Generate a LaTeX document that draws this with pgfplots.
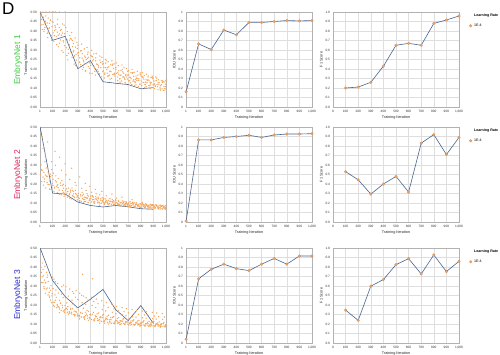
\documentclass[border=0pt]{standalone}
\usepackage{pgfplots}
\pgfplotsset{compat=1.18}
\usepackage{pgfplotstable}
\usepackage{fontspec}
\setmainfont{Liberation Sans}
\definecolor{lineblue}{HTML}{4A6491}
\definecolor{dotorange}{HTML}{F5A55A}
\definecolor{mkorange}{HTML}{F3A362}
\definecolor{engreen}{HTML}{3DCC3D}
\definecolor{enred}{HTML}{E0245A}
\definecolor{enblue}{HTML}{2A2ACF}

\pgfplotstableread{
it en1 en2 en3
3 0.500 0.248 0.352
8 0.432 0.301 0.398
14 0.461 0.213 0.318
18 0.408 0.448 0.421
11 0.483 0.276 0.371
35 0.443 0.226 0.331
24 0.500 0.387 0.387
31 0.397 0.262 0.296
27 0.472 0.194 0.354
39 0.418 0.318 0.404
49 0.500 0.284 0.284
57 0.388 0.208 0.346
42 0.452 0.352 0.262
53 0.427 0.241 0.372
46 0.479 0.179 0.318
72 0.413 0.197 0.267
65 0.468 0.262 0.324
76 0.500 0.231 0.241
61 0.366 0.421 0.358
75 0.441 0.173 0.289
83 0.458 0.238 0.226
88 0.377 0.171 0.301
94 0.423 0.276 0.248
98 0.500 0.203 0.347
91 0.352 0.318 0.212
115 0.402 0.183 0.214
104 0.447 0.226 0.287
111 0.346 0.162 0.336
107 0.500 0.257 0.198
119 0.428 0.372 0.253
129 0.371 0.211 0.241
137 0.436 0.154 0.196
122 0.500 0.298 0.322
133 0.328 0.187 0.186
126 0.407 0.243 0.279
152 0.418 0.168 0.188
145 0.317 0.229 0.263
156 0.384 0.147 0.179
141 0.462 0.196 0.314
155 0.500 0.341 0.224
163 0.353 0.192 0.208
168 0.409 0.143 0.172
174 0.296 0.217 0.296
178 0.437 0.166 0.186
171 0.377 0.272 0.257
195 0.386 0.151 0.174
184 0.288 0.198 0.239
191 0.431 0.136 0.168
187 0.342 0.178 0.305
199 0.500 0.306 0.197
209 0.312 0.174 0.183
217 0.397 0.131 0.162
202 0.358 0.192 0.278
213 0.271 0.152 0.211
206 0.418 0.248 0.296
232 0.327 0.143 0.164
225 0.283 0.178 0.247
236 0.376 0.126 0.157
221 0.248 0.161 0.191
235 0.352 0.224 0.284
243 0.291 0.158 0.177
248 0.357 0.122 0.153
254 0.262 0.179 0.226
258 0.318 0.139 0.271
251 0.392 0.283 0.162
275 0.268 0.131 0.151
264 0.334 0.162 0.203
271 0.226 0.119 0.168
267 0.297 0.148 0.262
279 0.363 0.208 0.147
289 0.247 0.146 0.163
297 0.308 0.117 0.142
282 0.218 0.166 0.241
293 0.341 0.131 0.186
286 0.276 0.193 0.276
312 0.236 0.124 0.146
305 0.287 0.151 0.174
316 0.207 0.112 0.138
301 0.326 0.139 0.229
315 0.259 0.237 0.262
323 0.223 0.137 0.158
328 0.296 0.109 0.137
334 0.258 0.156 0.212
338 0.197 0.124 0.362
331 0.331 0.178 0.251
355 0.268 0.118 0.139
344 0.209 0.146 0.183
351 0.306 0.131 0.131
347 0.238 0.104 0.247
359 0.188 0.203 0.162
369 0.228 0.127 0.152
377 0.277 0.141 0.129
362 0.192 0.108 0.204
373 0.314 0.149 0.171
366 0.249 0.166 0.238
392 0.203 0.113 0.134
385 0.262 0.137 0.166
396 0.231 0.122 0.127
381 0.289 0.102 0.226
395 0.178 0.188 0.149
403 0.219 0.124 0.147
408 0.268 0.106 0.124
414 0.176 0.139 0.198
418 0.243 0.117 0.338
411 0.297 0.157 0.241
435 0.188 0.109 0.128
424 0.251 0.131 0.161
431 0.207 0.098 0.121
427 0.279 0.119 0.219
439 0.168 0.172 0.143
449 0.226 0.118 0.139
457 0.183 0.101 0.118
442 0.259 0.134 0.187
453 0.197 0.126 0.153
446 0.281 0.149 0.231
472 0.172 0.104 0.124
465 0.218 0.122 0.158
476 0.247 0.096 0.116
461 0.188 0.131 0.207
475 0.268 0.143 0.136
483 0.207 0.113 0.133
488 0.159 0.099 0.114
494 0.238 0.127 0.176
498 0.186 0.107 0.147
491 0.262 0.162 0.222
515 0.179 0.101 0.119
504 0.228 0.118 0.151
511 0.153 0.093 0.112
507 0.209 0.124 0.198
519 0.251 0.109 0.131
529 0.197 0.112 0.128
537 0.162 0.097 0.109
522 0.231 0.121 0.169
533 0.178 0.104 0.141
526 0.246 0.138 0.213
552 0.168 0.096 0.114
545 0.212 0.114 0.146
556 0.147 0.108 0.106
541 0.238 0.091 0.188
555 0.189 0.123 0.124
563 0.186 0.107 0.123
568 0.151 0.093 0.104
574 0.219 0.118 0.162
578 0.171 0.101 0.136
571 0.243 0.147 0.203
595 0.162 0.098 0.111
584 0.203 0.112 0.139
591 0.178 0.089 0.102
587 0.227 0.106 0.179
599 0.142 0.117 0.119
609 0.177 0.104 0.118
617 0.139 0.092 0.103
602 0.208 0.114 0.154
613 0.158 0.099 0.129
606 0.232 0.126 0.193
632 0.148 0.093 0.108
625 0.191 0.108 0.134
636 0.167 0.087 0.099
621 0.218 0.112 0.171
635 0.131 0.101 0.117
643 0.168 0.102 0.114
648 0.137 0.089 0.101
654 0.198 0.111 0.148
658 0.157 0.096 0.126
651 0.221 0.131 0.186
675 0.129 0.088 0.104
664 0.178 0.104 0.129
671 0.152 0.093 0.097
667 0.207 0.109 0.165
679 0.166 0.098 0.113
689 0.158 0.097 0.111
697 0.187 0.085 0.099
682 0.121 0.106 0.143
693 0.147 0.091 0.122
686 0.203 0.102 0.181
712 0.138 0.089 0.102
705 0.169 0.101 0.126
716 0.127 0.083 0.095
701 0.192 0.096 0.159
715 0.157 0.107 0.109
723 0.149 0.098 0.108
728 0.118 0.086 0.097
734 0.177 0.103 0.139
738 0.136 0.092 0.118
731 0.198 0.118 0.176
755 0.128 0.084 0.099
744 0.161 0.097 0.122
751 0.112 0.079 0.094
747 0.183 0.102 0.154
759 0.146 0.091 0.106
769 0.139 0.093 0.105
777 0.168 0.081 0.095
762 0.117 0.099 0.136
773 0.188 0.087 0.115
766 0.152 0.101 0.171
792 0.121 0.083 0.097
785 0.148 0.094 0.119
796 0.171 0.078 0.093
781 0.108 0.089 0.151
795 0.179 0.097 0.104
803 0.137 0.091 0.103
808 0.112 0.079 0.094
814 0.159 0.096 0.133
818 0.128 0.085 0.112
811 0.181 0.103 0.168
835 0.118 0.081 0.095
824 0.147 0.092 0.117
831 0.102 0.076 0.091
827 0.166 0.088 0.148
839 0.131 0.095 0.102
849 0.127 0.087 0.101
857 0.158 0.075 0.093
842 0.109 0.094 0.131
853 0.141 0.082 0.109
846 0.172 0.091 0.164
872 0.112 0.078 0.094
865 0.138 0.089 0.114
876 0.121 0.073 0.089
861 0.163 0.084 0.145
875 0.098 0.093 0.099
883 0.128 0.086 0.099
888 0.103 0.074 0.091
894 0.149 0.091 0.128
898 0.117 0.079 0.107
891 0.161 0.088 0.161
915 0.109 0.077 0.093
904 0.137 0.088 0.112
911 0.122 0.072 0.088
907 0.097 0.083 0.142
919 0.158 0.091 0.097
929 0.118 0.084 0.098
937 0.091 0.071 0.089
922 0.138 0.089 0.126
933 0.107 0.078 0.105
926 0.152 0.086 0.158
952 0.101 0.074 0.092
945 0.128 0.086 0.111
956 0.112 0.079 0.087
941 0.143 0.069 0.139
955 0.089 0.089 0.096
963 0.117 0.082 0.097
968 0.096 0.071 0.088
974 0.138 0.087 0.124
978 0.088 0.076 0.104
971 0.129 0.068 0.155
995 0.108 0.073 0.091
984 0.087 0.084 0.109
991 0.132 0.069 0.086
987 0.098 0.079 0.137
999 0.141 0.087 0.095
}\lossdots

\pgfplotstableread{
it en1 en2 en3
17 0.474 0.271 0.348
24 0.434 0.236 0.318
34 0.408 0.212 0.286
42 0.448 0.247 0.316
57 0.442 0.241 0.289
64 0.394 0.198 0.253
74 0.416 0.216 0.247
82 0.456 0.252 0.277
97 0.450 0.245 0.260
104 0.390 0.193 0.215
114 0.376 0.179 0.192
122 0.420 0.218 0.225
137 0.394 0.194 0.203
144 0.378 0.180 0.191
154 0.335 0.145 0.160
162 0.403 0.205 0.211
177 0.389 0.191 0.198
184 0.349 0.156 0.168
194 0.323 0.146 0.159
202 0.363 0.166 0.179
217 0.352 0.161 0.176
224 0.304 0.137 0.152
234 0.321 0.148 0.163
242 0.361 0.168 0.183
257 0.350 0.165 0.180
264 0.290 0.135 0.150
274 0.271 0.128 0.143
282 0.315 0.150 0.165
297 0.284 0.137 0.152
304 0.270 0.129 0.144
314 0.235 0.110 0.127
322 0.295 0.144 0.161
337 0.281 0.139 0.156
344 0.246 0.119 0.136
354 0.227 0.108 0.124
362 0.262 0.128 0.144
377 0.256 0.126 0.143
384 0.214 0.102 0.119
394 0.237 0.116 0.132
402 0.272 0.136 0.152
417 0.265 0.135 0.151
424 0.213 0.105 0.121
434 0.204 0.100 0.116
442 0.243 0.122 0.138
457 0.224 0.112 0.128
464 0.210 0.104 0.120
474 0.175 0.088 0.104
482 0.235 0.122 0.138
497 0.226 0.112 0.134
504 0.191 0.102 0.114
514 0.172 0.096 0.104
522 0.207 0.106 0.124
537 0.206 0.105 0.124
544 0.164 0.093 0.100
554 0.187 0.099 0.114
562 0.222 0.109 0.134
577 0.225 0.108 0.134
584 0.173 0.093 0.104
594 0.170 0.091 0.105
602 0.198 0.102 0.118
617 0.183 0.097 0.111
624 0.173 0.093 0.106
634 0.150 0.084 0.097
642 0.193 0.101 0.117
657 0.185 0.099 0.115
664 0.160 0.089 0.103
674 0.145 0.084 0.097
682 0.170 0.094 0.109
697 0.168 0.094 0.110
704 0.138 0.082 0.095
714 0.156 0.089 0.104
722 0.181 0.099 0.116
737 0.180 0.099 0.116
744 0.143 0.084 0.098
754 0.135 0.082 0.096
762 0.163 0.093 0.109
777 0.150 0.088 0.103
784 0.140 0.084 0.098
794 0.120 0.076 0.089
802 0.163 0.093 0.109
817 0.155 0.091 0.107
824 0.130 0.081 0.095
834 0.118 0.076 0.089
842 0.143 0.086 0.101
857 0.143 0.086 0.102
864 0.113 0.074 0.087
874 0.130 0.081 0.096
882 0.155 0.091 0.108
897 0.155 0.091 0.108
904 0.118 0.076 0.090
914 0.112 0.074 0.089
922 0.140 0.085 0.102
937 0.127 0.080 0.096
944 0.117 0.076 0.091
954 0.095 0.068 0.083
962 0.138 0.085 0.103
977 0.133 0.083 0.101
984 0.108 0.073 0.089
994 0.095 0.068 0.084
998 0.120 0.078 0.096
}\lossdotsb

\pgfplotstableread{
it en1 en2 en3
1 0.500 0.500 0.500
100 0.351 0.152 0.329
200 0.372 0.147 0.244
300 0.202 0.105 0.185
400 0.244 0.087 0.230
500 0.133 0.079 0.282
600 0.125 0.087 0.176
700 0.118 0.080 0.118
800 0.096 0.070 0.197
900 0.102 0.067 0.103
}\lossval

\pgfplotstableread{
it en1 en2 en3
1 0.16 0.01 0.04
100 0.664 0.864 0.675
200 0.605 0.864 0.776
300 0.81 0.89 0.83
400 0.76 0.90 0.783
500 0.89 0.913 0.762
600 0.89 0.89 0.83
700 0.90 0.916 0.89
800 0.91 0.926 0.83
900 0.906 0.926 0.916
1000 0.91 0.93 0.916
}\iou

\pgfplotstableread{
it en1 en2 en3
100 0.20 0.53 0.346
200 0.21 0.444 0.238
300 0.26 0.294 0.598
400 0.43 0.40 0.668
500 0.65 0.48 0.825
600 0.67 0.315 0.888
700 0.65 0.83 0.727
800 0.88 0.92 0.927
900 0.916 0.71 0.752
1000 0.958 0.89 0.86
}\fone

\pgfplotsset{
 base/.style={
   scale only axis, width=126pt, height=95pt, anchor=south west,
   axis line style={black!30, line width=0.4pt},
   major tick length=0pt,
   xmin=0, xmax=1000,
   tick label style={font=\fontsize{3.2}{3.6}\selectfont, text=black!80},
   label style={font=\fontsize{3.8}{4.5}\selectfont, text=black!85},
   xticklabel style={yshift=0.5pt},
   yticklabel style={xshift=0.5pt},
   xlabel={Training Iteration},
   xlabel style={yshift=4pt},
   ylabel style={yshift=-4pt},
   grid style={black!13, line width=0.3pt},
   xmajorgrids,
 },
 loss/.style={base, ymin=0, ymax=0.5,
   ytick={0,0.05,0.1,0.15,0.2,0.25,0.3,0.35,0.4,0.45,0.5},
   yticklabels={0.00,0.05,0.10,0.15,0.20,0.25,0.30,0.35,0.40,0.45,0.50},
   ylabel={Training Validation},
   xtick={1,100,200,300,400,500,600,700,800,900,1000},
   xticklabels={1,100,200,300,400,500,600,700,800,900,{1,000}}},
 iou/.style={base, ymin=0, ymax=1, ymajorgrids,
   ytick={0,0.1,0.2,0.3,0.4,0.5,0.6,0.7,0.8,0.9,1},
   yticklabels={0,0.1,0.2,0.3,0.4,0.5,0.6,0.7,0.8,0.9,1},
   ylabel={IOU Score},
   xtick={1,100,200,300,400,500,600,700,800,900,1000},
   xticklabels={1,100,200,300,400,500,600,700,800,900,{1,000}}},
 fone/.style={base, ymin=0, ymax=1, ymajorgrids,
   ytick={0,0.1,0.2,0.3,0.4,0.5,0.6,0.7,0.8,0.9,1},
   yticklabels={0.0,0.1,0.2,0.3,0.4,0.5,0.6,0.7,0.8,0.9,1.0},
   ylabel={F1 Score},
   xtick={0,100,200,300,400,500,600,700,800,900,1000},
   xticklabels={0,100,200,300,400,500,600,700,800,900,{1,000}},
   legend style={at={(1,1)}, anchor=north west, xshift=3pt, draw=none, fill=none,
     font=\fontsize{3.6}{4.2}\selectfont, inner sep=0pt, row sep=1.5pt},
   legend cell align=left},
 scatdots/.style={only marks, color=dotorange, mark=*, mark size=0.42pt,
   mark options={draw=none, fill=dotorange, fill opacity=0.75}},
 valline/.style={color=lineblue, line width=0.6pt, no markers},
 mk/.style={only marks, color=mkorange, mark=*, mark size=1.4pt,
   mark options={fill=mkorange, draw=mkorange!85!black, line width=0.2pt}},
}

\begin{document}
\begin{tikzpicture}[x=1pt,y=1pt]
\useasboundingbox (0,0) rectangle (500,354);
\node[anchor=north west, font=\fontsize{17}{18}\selectfont, inner sep=0pt] at (2,351) {D};
\node[rotate=90, font=\fontsize{8.5}{10}\selectfont, text=engreen] at (18,294) {EmbryoNet 1};
\node[rotate=90, font=\fontsize{8.5}{10}\selectfont, text=enred] at (18,179) {EmbryoNet 2};
\node[rotate=90, font=\fontsize{8.5}{10}\selectfont, text=enblue] at (18,59) {EmbryoNet 3};

% Row 1
\begin{axis}[loss, at={(40pt,247pt)}]
\addplot[scatdots] table[x=it, y=en1] {\lossdots};
\addplot[scatdots] table[x=it, y=en1] {\lossdotsb};
\addplot[valline] table[x=it, y=en1] {\lossval};
\end{axis}
\begin{axis}[iou, at={(186pt,247pt)}]
\addplot[mk] table[x=it, y=en1] {\iou};
\addplot[valline] table[x=it, y=en1] {\iou};
\end{axis}
\begin{axis}[fone, at={(333pt,247pt)}]
\addlegendimage{empty legend}\addlegendentry{\textbf{Learning Rate}}
\addplot[mk] table[x=it, y=en1] {\fone};\addlegendentry{1E-4}
\addplot[valline, forget plot] table[x=it, y=en1] {\fone};
\end{axis}

% Row 2
\begin{axis}[loss, at={(40pt,132pt)}]
\addplot[scatdots] table[x=it, y=en2] {\lossdots};
\addplot[scatdots] table[x=it, y=en2] {\lossdotsb};
\addplot[valline] table[x=it, y=en2] {\lossval};
\end{axis}
\begin{axis}[iou, at={(186pt,132pt)}]
\addplot[mk] table[x=it, y=en2] {\iou};
\addplot[valline] table[x=it, y=en2] {\iou};
\end{axis}
\begin{axis}[fone, at={(333pt,132pt)}]
\addlegendimage{empty legend}\addlegendentry{\textbf{Learning Rate}}
\addplot[mk] table[x=it, y=en2] {\fone};\addlegendentry{1E-4}
\addplot[valline, forget plot] table[x=it, y=en2] {\fone};
\end{axis}

% Row 3
\begin{axis}[loss, at={(40pt,11pt)}]
\addplot[scatdots] table[x=it, y=en3] {\lossdots};
\addplot[scatdots] table[x=it, y=en3] {\lossdotsb};
\addplot[valline] table[x=it, y=en3] {\lossval};
\end{axis}
\begin{axis}[iou, at={(186pt,11pt)}]
\addplot[mk] table[x=it, y=en3] {\iou};
\addplot[valline] table[x=it, y=en3] {\iou};
\end{axis}
\begin{axis}[fone, at={(333pt,11pt)}]
\addlegendimage{empty legend}\addlegendentry{\textbf{Learning Rate}}
\addplot[mk] table[x=it, y=en3] {\fone};\addlegendentry{1E-4}
\addplot[valline, forget plot] table[x=it, y=en3] {\fone};
\end{axis}
\end{tikzpicture}
\end{document}
